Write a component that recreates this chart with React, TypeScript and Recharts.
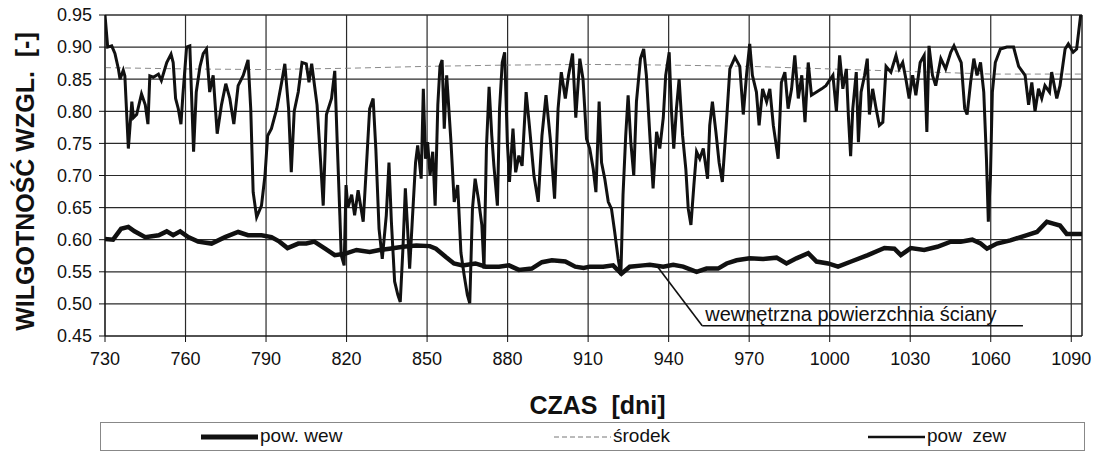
import {
  LineChart,
  Line,
  XAxis,
  YAxis,
  CartesianGrid,
  ReferenceLine,
  ReferenceDot,
  Label
} from 'recharts'

const FONT = '"Liberation Sans", Arial, sans-serif'

// --- AXES ---
const xTicks = [730, 760, 790, 820, 850, 880, 910, 940, 970, 1000, 1030, 1060, 1090]
const yTicks = [0.45, 0.5, 0.55, 0.6, 0.65, 0.7, 0.75, 0.8, 0.85, 0.9, 0.95]

// --- pow zew (outer surface) ---
const zewDays = [
  730, 731, 732.5, 733.7, 735, 735.6, 736.8, 737.4, 738.7, 740, 740.6, 741.8, 743.6, 745, 746, 746.7, 748, 749.9,
  751, 753, 754.6, 755.4, 756.3, 757.3, 758.3, 759, 760.4, 761.6, 763, 764, 765.4, 766.6, 767.8, 769, 770.3, 771.8,
  773.4, 775, 776.5, 778, 779.6, 781.5, 783.3, 784.3, 785.2, 786.5, 788.3, 789.6, 790.6, 792, 794, 795.8, 797, 798.4,
  799.4, 800.5, 802, 803.4, 805, 806, 807, 809, 810.5, 811.3, 812.5, 814.4, 815.6, 816.6, 817.5, 818, 819.1, 819.8,
  820.5, 821.9, 823, 824.3, 826.2, 827.7, 828.6, 829.9, 830.9, 832.1, 833.3, 834.8, 835.8, 836.7, 837.9, 839.1, 840,
  841, 841.9, 842.6, 843.5, 844.4, 845.7, 846.5, 847.8, 848.6, 849.4, 850.2, 851.1, 852.1, 853, 854, 854.8, 855.6,
  856.4, 857.3, 858.9, 860.1, 861.4, 862.6, 863.8, 865, 865.9, 866.9, 867.9, 869.1, 870.4, 871.2, 872.1, 873.1, 874.1,
  874.9, 876.2, 877, 878, 878.9, 879.9, 880.7, 882, 883, 884.2, 885.4, 886.9, 888.1, 889.8, 891.4, 892.8, 894.3, 895.9,
  897.5, 898.8, 900, 901.5, 902.7, 904.2, 905.4, 906.9, 908.1, 909.4, 910.6, 911.9, 912.9, 914.1, 915, 916.2, 917.5,
  918.7, 919.9, 921.2, 922.2, 923, 924, 924.9, 925.9, 927, 928, 929.5, 930.7, 931.7, 933, 934.2, 935.5, 936.7, 938,
  938.9, 940.2, 941, 941.9, 942.9, 943.9, 945.2, 946.4, 947.3, 948.3, 949.4, 950.4, 951.6, 952.9, 954.5, 955.3, 956.3,
  957.6, 958.8, 960, 961.3, 962.8, 964.7, 966.5, 967.8, 969, 970.2, 971.2, 972.7, 973.7, 975, 976.5, 977.7, 979, 979.9,
  980.8, 982, 983.3, 984.5, 985.8, 987, 988.3, 989.6, 990.8, 992, 993.2, 995.1, 997, 998.6, 1001.2, 1002.5, 1003.7,
  1004.9, 1006.2, 1007, 1007.8, 1008.6, 1009.9, 1010.7, 1011.7, 1013, 1014, 1014.8, 1016, 1017.3, 1018.5, 1019.8, 1021,
  1022.8, 1024.7, 1025.9, 1027.2, 1028.4, 1029.6, 1030.9, 1032.1, 1033.7, 1035.2, 1036.2, 1037, 1038.3, 1039.5, 1041.4,
  1043.2, 1045.1, 1046.3, 1047.8, 1049, 1050.3, 1051.2, 1052.5, 1053.7, 1054.9, 1056.2, 1057.4, 1058.4, 1059.1, 1059.9,
  1060.6, 1061.7, 1063.6, 1066, 1068.5, 1070.4, 1072.8, 1074.1, 1075.3, 1076.5, 1077.8, 1079, 1080.2, 1081.9, 1082.7,
  1084.6, 1085.8, 1087.7, 1088.9, 1090.7, 1092, 1093.5
]
const zewValues = [
  0.95, 0.9, 0.902, 0.89, 0.866, 0.85, 0.864, 0.855, 0.742, 0.815, 0.79, 0.795, 0.827, 0.81, 0.78, 0.855, 0.853, 0.858,
  0.848, 0.876, 0.889, 0.876, 0.82, 0.804, 0.78, 0.824, 0.9, 0.902, 0.737, 0.83, 0.87, 0.89, 0.897, 0.83, 0.856, 0.765,
  0.81, 0.843, 0.82, 0.78, 0.84, 0.856, 0.88, 0.804, 0.674, 0.635, 0.653, 0.7, 0.762, 0.773, 0.804, 0.845, 0.874, 0.804,
  0.705, 0.8, 0.83, 0.876, 0.874, 0.845, 0.874, 0.81, 0.71, 0.653, 0.795, 0.82, 0.863, 0.742, 0.638, 0.576, 0.56, 0.685,
  0.65, 0.67, 0.638, 0.677, 0.628, 0.737, 0.804, 0.82, 0.742, 0.617, 0.57, 0.638, 0.72, 0.628, 0.535, 0.514, 0.503,
  0.586, 0.68, 0.628, 0.555, 0.623, 0.72, 0.747, 0.695, 0.835, 0.726, 0.752, 0.7, 0.737, 0.653, 0.81, 0.87, 0.88,
  0.773, 0.856, 0.752, 0.659, 0.685, 0.58, 0.545, 0.514, 0.501, 0.648, 0.695, 0.664, 0.623, 0.555, 0.742, 0.838, 0.762,
  0.715, 0.653, 0.804, 0.876, 0.892, 0.752, 0.69, 0.773, 0.705, 0.731, 0.715, 0.83, 0.778, 0.7, 0.659, 0.762, 0.825, 0.757,
  0.664, 0.804, 0.861, 0.82, 0.856, 0.89, 0.79, 0.882, 0.85, 0.757, 0.742, 0.71, 0.674, 0.815, 0.72, 0.695, 0.659,
  0.648, 0.612, 0.57, 0.545, 0.67, 0.762, 0.825, 0.752, 0.7, 0.815, 0.882, 0.897, 0.856, 0.762, 0.68, 0.768, 0.742, 0.79,
  0.856, 0.892, 0.804, 0.742, 0.804, 0.85, 0.762, 0.71, 0.648, 0.623, 0.685, 0.737, 0.726, 0.742, 0.695, 0.778, 0.815,
  0.768, 0.72, 0.69, 0.768, 0.866, 0.884, 0.87, 0.795, 0.856, 0.905, 0.856, 0.83, 0.778, 0.835, 0.815, 0.835, 0.778, 0.752,
  0.726, 0.845, 0.861, 0.804, 0.835, 0.887, 0.82, 0.856, 0.783, 0.876, 0.825, 0.83, 0.835, 0.84, 0.856, 0.8, 0.887,
  0.835, 0.866, 0.79, 0.73, 0.804, 0.861, 0.752, 0.83, 0.856, 0.882, 0.795, 0.835, 0.804, 0.778, 0.783, 0.87,
  0.861, 0.887, 0.866, 0.876, 0.85, 0.82, 0.856, 0.825, 0.876, 0.887, 0.768, 0.902, 0.856, 0.84, 0.882,
  0.866, 0.892, 0.902, 0.887, 0.876, 0.804, 0.795, 0.845, 0.882, 0.856, 0.876, 0.83, 0.726, 0.628, 0.7,
  0.83, 0.876, 0.897, 0.9, 0.9, 0.87, 0.856, 0.81, 0.845, 0.8, 0.835, 0.82, 0.84, 0.83, 0.861,
  0.82, 0.84, 0.897, 0.905, 0.892, 0.897, 0.95
]

// --- pow. wew (inner surface) ---
const wewDays = [
  730, 733, 736, 738.7, 741, 745, 750, 753, 755.4, 758, 761, 764.7, 769.7, 774.7, 779.6, 783.3, 788.3, 792, 795, 798,
  802, 805, 808, 812, 815.6, 819.3, 823.7, 828.6, 832.3, 836, 841, 846, 851, 853.3, 857, 860, 863.2, 868, 871.9, 876.8,
  880.5, 884.2, 889, 892.8, 896.5, 901.5, 905.2, 908.3, 910.6, 915.6, 919.3, 922.4, 925.5, 930.5, 933, 938, 941.7,
  945.4, 950.4, 954.1, 958.4, 961.6, 965.3, 970.2, 975.2, 980.2, 983.9, 987.6, 992, 995.1, 999.4, 1003.1, 1008, 1014.2,
  1020.4, 1024.1, 1026.5, 1030.2, 1035.2, 1040.1, 1045.1, 1048.8, 1053.1, 1056.2, 1058.6, 1062.3, 1067.3, 1073.5,
  1077.2, 1080.9, 1083.3, 1085.8, 1088.3, 1091.4, 1094
]
const wewValues = [
  0.601, 0.6, 0.617, 0.62, 0.613, 0.604, 0.607, 0.613, 0.607, 0.613, 0.604, 0.597, 0.594, 0.604, 0.612, 0.607, 0.607,
  0.604, 0.597, 0.587, 0.594, 0.594, 0.597, 0.586, 0.576, 0.578, 0.584, 0.581, 0.584, 0.586, 0.589, 0.591, 0.59, 0.586,
  0.573, 0.563, 0.56, 0.563, 0.558, 0.558, 0.56, 0.553, 0.555, 0.565, 0.568, 0.566, 0.558, 0.556, 0.558, 0.558, 0.56,
  0.547, 0.558, 0.56, 0.561, 0.558, 0.561, 0.558, 0.55, 0.555, 0.555, 0.563, 0.568, 0.571, 0.57, 0.572, 0.563, 0.571,
  0.579, 0.566, 0.563, 0.558, 0.566, 0.576, 0.587, 0.586, 0.576, 0.587, 0.584, 0.589, 0.597, 0.597, 0.6, 0.594, 0.586,
  0.594, 0.599, 0.607, 0.612, 0.628, 0.625, 0.622, 0.609, 0.609, 0.609
]

// --- środek (middle of the wall) ---
const srodekDays = [730, 760, 790, 820, 850, 880, 910, 940, 970, 1000, 1030, 1060, 1094]
const srodekValues = [0.868, 0.866, 0.865, 0.867, 0.87, 0.872, 0.873, 0.872, 0.87, 0.866, 0.862, 0.858, 0.858]

// annotation leader: point on the inner curve, elbow, end of underline
const leaderDays = [936, 952.5, 1072]
const leaderValues = [0.557, 0.466, 0.466]
const ANNOTATION = 'wewnętrzna powierzchnia ściany'

const zewData = zewDays.map((day, i) => ({ day, v: zewValues[i] }))
const wewData = wewDays.map((day, i) => ({ day, v: wewValues[i] }))
const srodekData = srodekDays.map((day, i) => ({ day, v: srodekValues[i] }))

const legendItems = [
  { name: 'pow. wew', width: 5, dash: undefined, color: '#111', left: 100 },
  { name: 'środek', width: 1, dash: '5 3', color: '#777', left: 453 },
  { name: 'pow\u00a0\u00a0zew', width: 2.5, dash: undefined, color: '#111', left: 767 }
]

function LegendBox() {
  return (
    <div
      style={{
        position: 'absolute',
        left: 100,
        top: 422,
        width: 985,
        height: 29,
        border: '1px solid #888',
        boxSizing: 'border-box',
        fontFamily: FONT,
        fontSize: 19,
        color: '#111'
      }}
    >
      {legendItems.map((item) => (
        <div
          key={item.name}
          style={{ position: 'absolute', left: item.left, top: 2, display: 'flex', alignItems: 'center', whiteSpace: 'pre' }}
        >
          <svg width={57} height={20}>
            <line x1={0} y1={11} x2={57} y2={11} stroke={item.color} strokeWidth={item.width} strokeDasharray={item.dash} />
          </svg>
          <span style={{ marginLeft: 2, lineHeight: '22px' }}>{item.name}</span>
        </div>
      ))}
    </div>
  )
}

export default function App() {
  const tickStyle = { fontSize: 18, fill: '#111', fontFamily: FONT }
  const titleStyle = { fontSize: 25, fontWeight: 'bold', fill: '#111', fontFamily: FONT }

  return (
    <div style={{ position: 'absolute', left: 0, top: 0, width: 1093, height: 452, background: '#fff' }}>
      <LineChart width={1093} height={452} margin={{ top: 15, right: 11, bottom: 86, left: 0 }}>
        <CartesianGrid stroke="#2a2a2a" strokeWidth={1.2} />
        <XAxis
          dataKey="day"
          type="number"
          domain={[730, 1094]}
          ticks={xTicks}
          interval={0}
          allowDataOverflow
          height={30}
          tickSize={6}
          tickMargin={10}
          tick={tickStyle}
          stroke="#111"
        >
          <Label value={'CZAS\u00a0\u00a0[dni]'} position="bottom" offset={30} dx={4} style={titleStyle} />
        </XAxis>
        <YAxis
          type="number"
          domain={[0.45, 0.95]}
          ticks={yTicks}
          interval={0}
          allowDataOverflow
          width={105}
          tickSize={6}
          tickMargin={7}
          tick={tickStyle}
          tickFormatter={(v: number) => v.toFixed(2)}
          stroke="#111"
        >
          <Label
            value={'WILGOTNOŚĆ WZGL.\u00a0\u00a0[-]'}
            position="center"
            angle={-90}
            dx={-27}
            dy={6}
            style={titleStyle}
          />
        </YAxis>

        <ReferenceLine x={1094} stroke="#333" />
        <ReferenceLine y={0.95} stroke="#333" />

        <Line data={srodekData} dataKey="v" type="linear" stroke="#8a8a8a" strokeWidth={1} strokeDasharray="6 4" dot={false} isAnimationActive={false} />
        <Line data={zewData} dataKey="v" type="linear" stroke="#111" strokeWidth={3} dot={false} isAnimationActive={false} />
        <Line data={wewData} dataKey="v" type="linear" stroke="#111" strokeWidth={4.5} dot={false} isAnimationActive={false} />

        <ReferenceLine
          segment={[{ x: leaderDays[0], y: leaderValues[0] }, { x: leaderDays[1], y: leaderValues[1] }]}
          stroke="#111"
          strokeWidth={1.6}
        />
        <ReferenceLine
          segment={[{ x: leaderDays[1], y: leaderValues[1] }, { x: leaderDays[2], y: leaderValues[2] }]}
          stroke="#111"
          strokeWidth={1.6}
        />
        <ReferenceDot
          x={leaderDays[1]}
          y={leaderValues[1] + 0.019}
          r={0}
          stroke="none"
          fill="none"
          label={{ value: ANNOTATION, position: 'right', offset: 3, fontSize: 20, fill: '#111', fontFamily: FONT }}
        />
      </LineChart>
      <LegendBox />
    </div>
  )
}
